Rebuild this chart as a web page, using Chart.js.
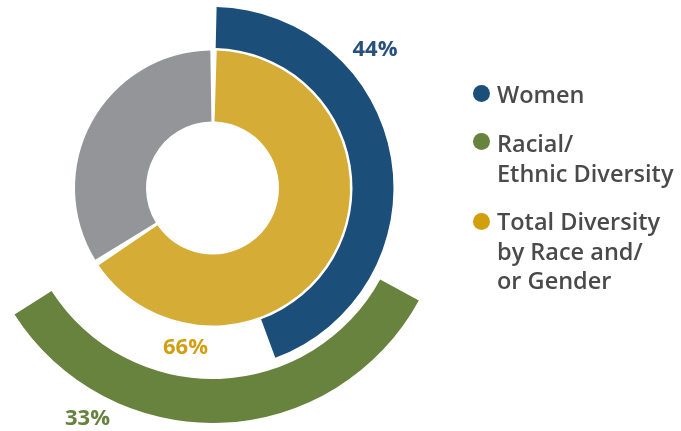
<!DOCTYPE html>
<html>
<head>
<meta charset="utf-8">
<script src="https://cdn.jsdelivr.net/npm/chart.js@4"></script>
<style>
  body { margin: 0; background: #fff; }
  #wrap { position: relative; width: 681px; height: 431px; overflow: hidden; }
  .pct { position: absolute; font-family: "Open Sans", sans-serif; font-weight: 700; font-size: 22px; line-height: 1; transform: translate(-50%, -50%); }
  .leg { position: absolute; left: 497px; font-family: "Open Sans", sans-serif; font-weight: 600; font-size: 23.5px; line-height: 29.5px; color: #4a4a4a; white-space: nowrap; }
  .dot { position: absolute; width: 17px; height: 17px; border-radius: 50%; }
</style>
</head>
<body>
<div id="wrap">
  <canvas id="myChart"></canvas>
</div>
<script>
// values
const ringLabels = ["Women", "Racial/ Ethnic Diversity", "Total Diversity by Race and/ or Gender"];
const women = 44;
const racial = 33;
const total = 66;
const colors = { women: "#1c4e7a", racial: "#68833e", total: "#d5ac35", rest: "#939598" };
const labelColors = { women: "#27507a", racial: "#67823f", total: "#d29f12" };
const legendLines = [["Women"], ["Racial/", "Ethnic Diversity"], ["Total Diversity", "by Race and/", "or Gender"]];

const wrap = document.getElementById("wrap");
const ctx = document.getElementById("myChart");

new Chart(ctx, {
    type: "doughnut",
    data: {
        labels: ["value", "rest"],
        datasets: [
            {   // outer: racial / ethnic
                data: [racial, 100 - racial],
                backgroundColor: [colors.racial, "rgba(0,0,0,0)"],
                borderWidth: 0,
                rotation: 118.6,
                weight: 44,
            },
            {   // spacer
                data: [100],
                backgroundColor: ["rgba(0,0,0,0)"],
                borderWidth: 0,
                weight: 10,
            },
            {   // women
                data: [women, 100 - women],
                backgroundColor: [colors.women, "rgba(0,0,0,0)"],
                borderWidth: 0,
                rotation: 1.3,
                weight: 41,
            },
            {   // spacer
                data: [100],
                backgroundColor: ["rgba(0,0,0,0)"],
                borderWidth: 0,
                weight: 4,
            },
            {   // total diversity
                data: [total, 100 - total],
                backgroundColor: [colors.total, colors.rest],
                borderWidth: 0,
                spacing: 3,
                weight: 71,
            },
        ],
    },
    options: {
        responsive: true,
        maintainAspectRatio: false,
        animation: false,
        radius: 235,
        cutout: "27.66%",
        layout: { padding: { left: 0, right: 256, top: 0, bottom: 55 } },
        plugins: {
            legend: { display: false },
            tooltip: { enabled: false },
        },
    },
});

// percentage labels
const pctLabels = [
    { text: women + "%", color: labelColors.women, x: 375, y: 47 },
    { text: total + "%", color: labelColors.total, x: 185.5, y: 345 },
    { text: racial + "%", color: labelColors.racial, x: 87.5, y: 416 },
];
pctLabels.forEach(p => {
    const el = document.createElement("div");
    el.className = "pct";
    el.style.left = p.x + "px";
    el.style.top = p.y + "px";
    el.style.color = p.color;
    el.textContent = p.text;
    wrap.appendChild(el);
});

// legend
const legendDots = [colors.women, colors.racial, "#d29f0c"];
const legendTops = [79.5, 129, 207];
const dotCentres = [93.5, 141.5, 221.5];
legendLines.forEach((lines, i) => {
    const dot = document.createElement("div");
    dot.className = "dot";
    dot.style.left = (481.5 - 8.5) + "px";
    dot.style.top = (dotCentres[i] - 8.5) + "px";
    dot.style.background = legendDots[i];
    wrap.appendChild(dot);

    const el = document.createElement("div");
    el.className = "leg";
    el.style.top = legendTops[i] + "px";
    el.innerHTML = lines.join("<br>");
    wrap.appendChild(el);
});
</script>
</body>
</html>
